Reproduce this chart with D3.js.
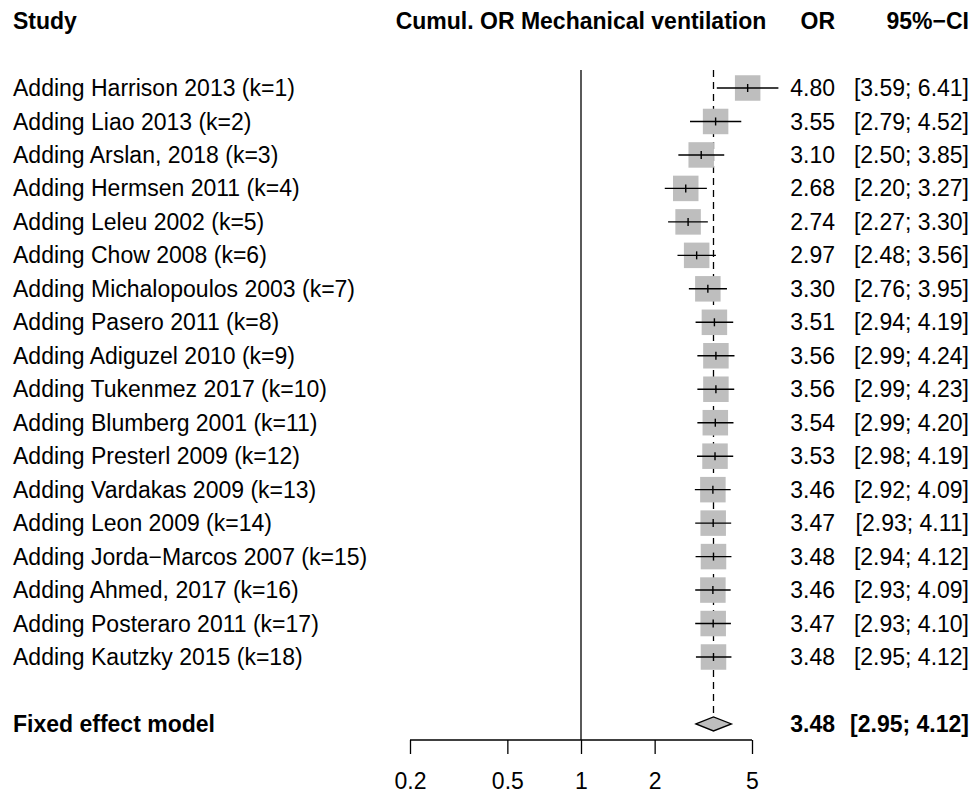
<!DOCTYPE html>
<html>
<head>
<meta charset="utf-8">
<script src="https://cdn.jsdelivr.net/npm/d3@7"></script>
<style>
  body { margin: 0; background: #fff; }
  svg text { font-family: "Liberation Sans", Arial, Helvetica, sans-serif; fill: #000; }
</style>
</head>
<body>
<svg id="chart" width="976" height="795"></svg>
<script>
// cumulative meta-analysis, one row per added study
const studies = ["Harrison 2013", "Liao 2013", "Arslan, 2018", "Hermsen 2011", "Leleu 2002",
  "Chow 2008", "Michalopoulos 2003", "Pasero 2011", "Adiguzel 2010", "Tukenmez 2017",
  "Blumberg 2001", "Presterl 2009", "Vardakas 2009", "Leon 2009", "Jorda\u2212Marcos 2007",
  "Ahmed, 2017", "Posteraro 2011", "Kautzky 2015"];
const orValues = [4.80, 3.55, 3.10, 2.68, 2.74, 2.97, 3.30, 3.51, 3.56, 3.56, 3.54, 3.53, 3.46, 3.47, 3.48, 3.46, 3.47, 3.48];
const ciLower  = [3.59, 2.79, 2.50, 2.20, 2.27, 2.48, 2.76, 2.94, 2.99, 2.99, 2.99, 2.98, 2.92, 2.93, 2.94, 2.93, 2.93, 2.95];
const ciUpper  = [6.41, 4.52, 3.85, 3.27, 3.30, 3.56, 3.95, 4.19, 4.24, 4.23, 4.20, 4.19, 4.09, 4.11, 4.12, 4.09, 4.10, 4.12];
const pooled = { label: "Fixed effect model", or: 3.48, lower: 2.95, upper: 4.12 };
const tickValues = [0.2, 0.5, 1, 2, 5];
const headers = { study: "Study", plot: "Cumul. OR Mechanical ventilation", or: "OR", ci: "95%\u2212CI" };

const fmt = d3.format(".2f");
const rows = studies.map((s, i) => ({
  label: `Adding ${s} (k=${i + 1})`, or: orValues[i], lower: ciLower[i], upper: ciUpper[i], i
}));

const svg = d3.select("#chart");
const fs = 23;
const orRight = 835, ciRight = 969, labelX = 13;

const x = d3.scaleLog().domain([0.2, 5]).range([410, 752]);
// row index -> y; header at -2, pooled at 19
const y = d3.scaleLinear().domain([0, 17]).range([88, 657]);
const pooledY = y(19);
const axisY = 740;

// headers
const hdr = svg.append("g").style("font-weight", "bold").style("font-size", fs + "px");
hdr.append("text").attr("x", labelX).attr("y", y(-2)).attr("dy", "0.35em").text(headers.study);
hdr.append("text").attr("x", x(1)).attr("y", y(-2)).attr("dy", "0.35em").attr("text-anchor", "middle").text(headers.plot);
hdr.append("text").attr("x", orRight).attr("y", y(-2)).attr("dy", "0.35em").attr("text-anchor", "end").text(headers.or);
hdr.append("text").attr("x", ciRight).attr("y", y(-2)).attr("dy", "0.35em").attr("text-anchor", "end").text(headers.ci);

// reference line at 1 and dashed pooled line
svg.append("line")
  .attr("x1", x(1)).attr("x2", x(1)).attr("y1", 70).attr("y2", axisY)
  .attr("stroke", "#000").attr("stroke-width", 1.3);
svg.append("line")
  .attr("x1", x(pooled.or)).attr("x2", x(pooled.or)).attr("y1", 70).attr("y2", pooledY - 10)
  .attr("stroke", "#000").attr("stroke-width", 1.3).attr("stroke-dasharray", "7,5");

// study rows
const g = svg.selectAll(".row").data(rows).join("g").attr("class", "row")
  .attr("transform", d => `translate(0,${y(d.i)})`);

const sq = 25.5;
g.append("rect")
  .attr("x", d => x(d.or) - sq / 2).attr("y", -sq / 2)
  .attr("width", sq).attr("height", sq)
  .attr("fill", "#bebebe");
g.append("line")
  .attr("x1", d => x(d.lower)).attr("x2", d => x(d.upper))
  .attr("stroke", "#000").attr("stroke-width", 1.4);
g.append("line")
  .attr("x1", d => x(d.or)).attr("x2", d => x(d.or)).attr("y1", -4).attr("y2", 4)
  .attr("stroke", "#000").attr("stroke-width", 1.4);

g.append("text").attr("x", labelX).attr("dy", "0.35em").style("font-size", fs + "px").text(d => d.label);
g.append("text").attr("x", orRight).attr("dy", "0.35em").attr("text-anchor", "end").style("font-size", fs + "px").text(d => fmt(d.or));
g.append("text").attr("x", ciRight).attr("dy", "0.35em").attr("text-anchor", "end").style("font-size", fs + "px")
  .text(d => `[${fmt(d.lower)}; ${fmt(d.upper)}]`);

// pooled diamond
const dh = 7;
svg.append("path")
  .attr("d", `M${x(pooled.lower)},${pooledY}L${x(pooled.or)},${pooledY - dh}L${x(pooled.upper)},${pooledY}L${x(pooled.or)},${pooledY + dh}Z`)
  .attr("fill", "#bebebe").attr("stroke", "#000").attr("stroke-width", 1.3);
const pg = svg.append("g").style("font-weight", "bold").style("font-size", fs + "px");
pg.append("text").attr("x", labelX).attr("y", pooledY).attr("dy", "0.35em").text(pooled.label);
pg.append("text").attr("x", orRight).attr("y", pooledY).attr("dy", "0.35em").attr("text-anchor", "end").text(fmt(pooled.or));
pg.append("text").attr("x", ciRight).attr("y", pooledY).attr("dy", "0.35em").attr("text-anchor", "end")
  .text(`[${fmt(pooled.lower)}; ${fmt(pooled.upper)}]`);

// x axis
const axis = svg.append("g").attr("transform", `translate(0,${axisY})`)
  .call(d3.axisBottom(x).tickValues(tickValues).tickFormat(d3.format("")).tickSize(14).tickPadding(19));
axis.select(".domain").attr("d", `M${x(0.2)},0H${x(5)}`).attr("stroke-width", 1.3);
axis.selectAll(".tick line").attr("stroke-width", 1.3);
axis.selectAll(".tick text").style("font-size", fs + "px").attr("font-family", null);
</script>
</body>
</html>
